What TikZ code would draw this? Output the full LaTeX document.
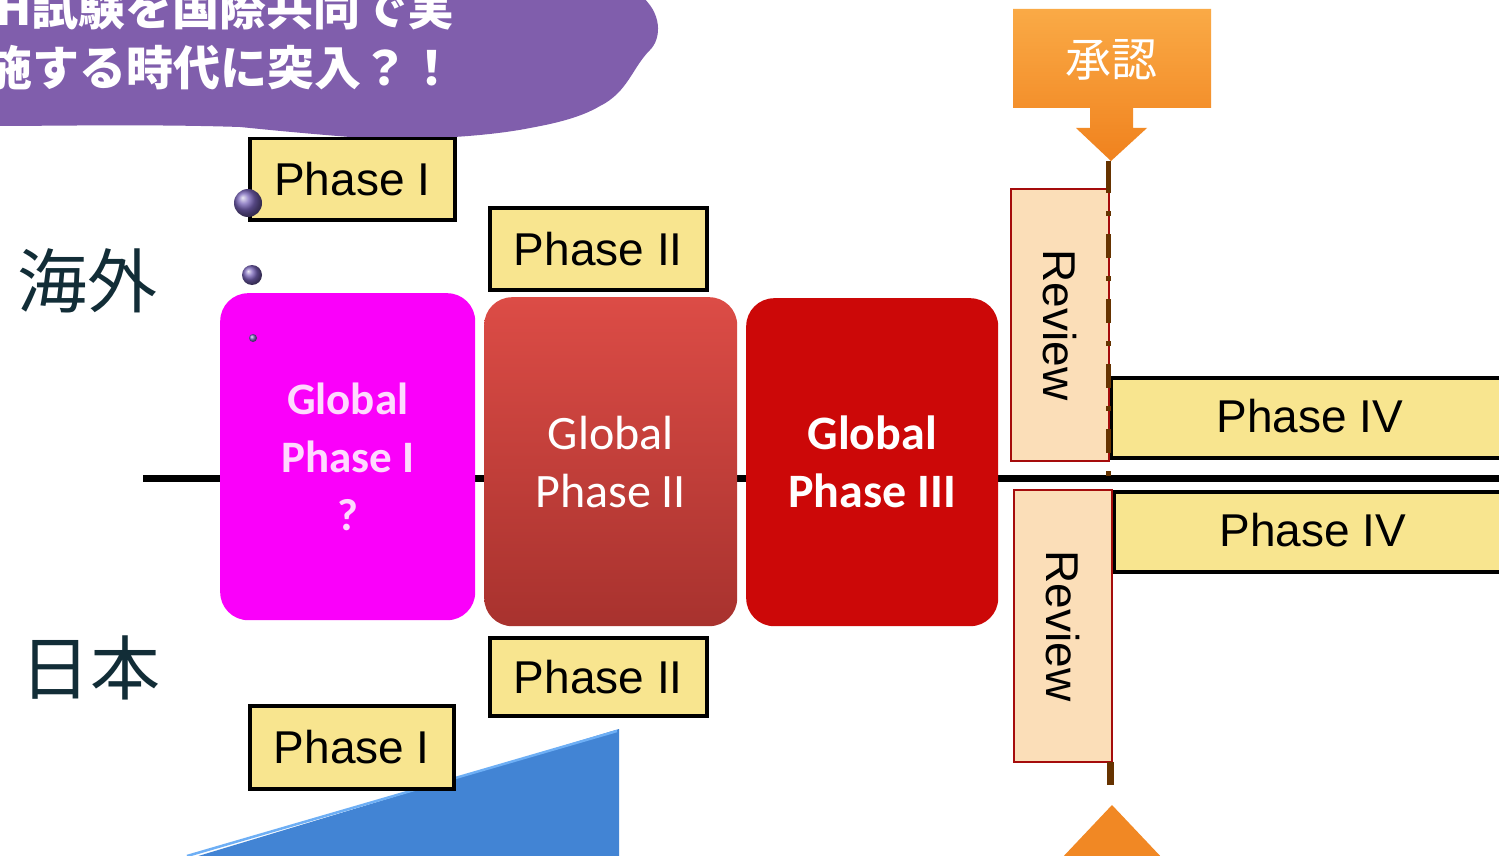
\documentclass[tikz,border=0pt]{standalone}
\usepackage{fontspec}
\setmainfont{Liberation Sans}
\newfontfamily\cjkfont{Noto Sans CJK JP}
\newfontfamily\calfont{Carlito}
\definecolor{phaseY}{RGB}{248,229,143}
\definecolor{revFill}{RGB}{251,222,184}
\definecolor{revRed}{RGB}{165,12,12}
\definecolor{gpOne}{RGB}{250,0,250}
\definecolor{gpTwoTop}{RGB}{220,76,70}
\definecolor{gpTwoBot}{RGB}{168,50,46}
\definecolor{gpThree}{RGB}{204,8,8}
\definecolor{cloudP}{RGB}{128,94,172}
\definecolor{dotP}{RGB}{120,100,185}
\definecolor{orangeA}{RGB}{250,170,70}
\definecolor{orangeB}{RGB}{240,130,30}
\definecolor{labelDark}{RGB}{18,45,55}
\definecolor{brownL}{RGB}{102,51,0}
\definecolor{blueT}{RGB}{66,132,212}
\definecolor{blueEdge}{RGB}{110,175,245}
\tikzset{
  phasebox/.style={draw=black, line width=3.5pt, fill=phaseY, text=black,
    font=\fontsize{46}{50}\selectfont, inner sep=0pt, anchor=north west},
  globalbox/.style={rounded corners=28pt, inner sep=0pt, anchor=north west,
    align=center, text=white},
  reviewbox/.style={draw=revRed, line width=2.5pt, fill=revFill, text=black,
    font=\fontsize{46}{50}\selectfont, inner sep=0pt, rotate=-90,
    minimum width=272pt, minimum height=98pt},
  regionlabel/.style={text=labelDark, font=\cjkfont\fontsize{70}{80}\selectfont, inner sep=0pt},
  cloudtext/.style={text=white, font=\cjkfont\bfseries\fontsize{47}{50}\selectfont, inner sep=0pt, anchor=base west},
  brownline/.style={draw=brownL, line width=5pt},
  dotball/.style={ball color=dotP}
}
\begin{document}
\begin{tikzpicture}[x=1pt,y=-1pt]
\useasboundingbox (0,0) rectangle (1499,856);
\fill[white] (0,0) rectangle (1499,856);

% cloud
\fill[cloudP] (-5,-5) -- (640,-5) .. controls (662,12) and (662,38) .. (650,50)
  .. controls (632,68) and (628,92) .. (600,106)
  .. controls (580,118) and (552,124) .. (530,128)
  .. controls (480,138) and (400,141) .. (350,137)
  .. controls (300,133) and (270,130) .. (240,127)
  .. controls (150,124) and (50,126) .. (-5,126) -- cycle;
\node[cloudtext] (c1) at (-5,26) {H試験を国際共同で実};
\node[cloudtext] (c2) at (-15,86) {施する時代に突入？！};

% region labels
\node[regionlabel] (kaigai) at (87,281) {海外};
\node[regionlabel] (nihon) at (90,668) {日本};

% blue triangle
\fill[blueT] (185,860) -- (619,729) -- (619,860) -- cycle;
\draw[blueEdge, line width=2.5pt] (187,856) -- (617,731);

% timeline
\coordinate (tlL) at (143,478);
\coordinate (tlR) at (1499,478);
\draw[black, line width=7pt] (tlL) -- (tlR);

% global boxes
\node[globalbox, fill=gpOne, minimum width=255pt, minimum height=327pt,
  text=white!85!gpOne, font=\calfont\bfseries\fontsize{45}{58}\selectfont] (gp1) at (220,293) {Global\\Phase I\\?};
\node[globalbox, top color=gpTwoTop, bottom color=gpTwoBot, minimum width=253pt, minimum height=329pt,
  font=\calfont\fontsize{48}{58}\selectfont] (gp2) at (484,297) {Global\\Phase II};
\node[globalbox, fill=gpThree, minimum width=252pt, minimum height=328pt,
  font=\calfont\bfseries\fontsize{48}{58}\selectfont] (gp3) at (746,298) {Global\\Phase III};

% phase boxes
\node[phasebox, minimum width=205pt, minimum height=81pt] (p1top) at (248,137) {Phase I};
\node[phasebox, minimum width=217pt, minimum height=82pt] (p2top) at (488,206) {Phase II};
\node[phasebox, minimum width=217pt, minimum height=78pt] (p2bot) at (488,636) {Phase II};
\node[phasebox, minimum width=204pt, minimum height=83pt] (p1bot) at (248,704) {Phase I};
\node[phasebox, minimum width=410pt, minimum height=80pt] (p4top) at (1109,376) {};
\node[phasebox, minimum width=410pt, minimum height=80pt] (p4bot) at (1112,490) {};
\node[font=\fontsize{46}{50}\selectfont, inner sep=0pt] (p4toptext) at (1310,416) {Phase IV};
\node[font=\fontsize{46}{50}\selectfont, inner sep=0pt] (p4bottext) at (1313,530) {Phase IV};

% thought dots
\shade[dotball] (248,203) circle (14);
\shade[dotball] (252,275) circle (10);
\shade[dotball] (253,338) circle (4);

% review boxes
\node[reviewbox] (revtop) at (1060,325) {Review};
\node[reviewbox] (revbot) at (1063,626) {Review};

% approval callout
\shade[top color=orangeA, bottom color=orangeB]
  (1013,9) -- (1211,9) -- (1211,108) -- (1133,108) -- (1133,128) -- (1147,128)
  -- (1111,161) -- (1076,128) -- (1090,128) -- (1090,108) -- (1013,108) -- cycle;
\node[text=white, font=\cjkfont\fontsize{46}{50}\selectfont, inner sep=0pt] (shonin) at (1111,60) {承認};
\coordinate (tip) at (1108,161);
\coordinate (cross) at (1108,480);

% dashed brown line
\draw[brownline] (tip) -- ++(0,27);
\draw[brownline, dash pattern=on 24pt off 18pt on 5pt off 18pt, dash phase=57pt] (tip) -- (cross);

% bottom connector and orange triangle
\coordinate (apex) at (1112,805);
\coordinate (revfoot) at (1110,762);
\fill[orangeB!85!orangeA] (apex) -- (1164,860) -- (1060,860) -- cycle;
\draw[brownline, line width=7pt] (revfoot) -- ++(0,23);
\end{tikzpicture}
\end{document}
